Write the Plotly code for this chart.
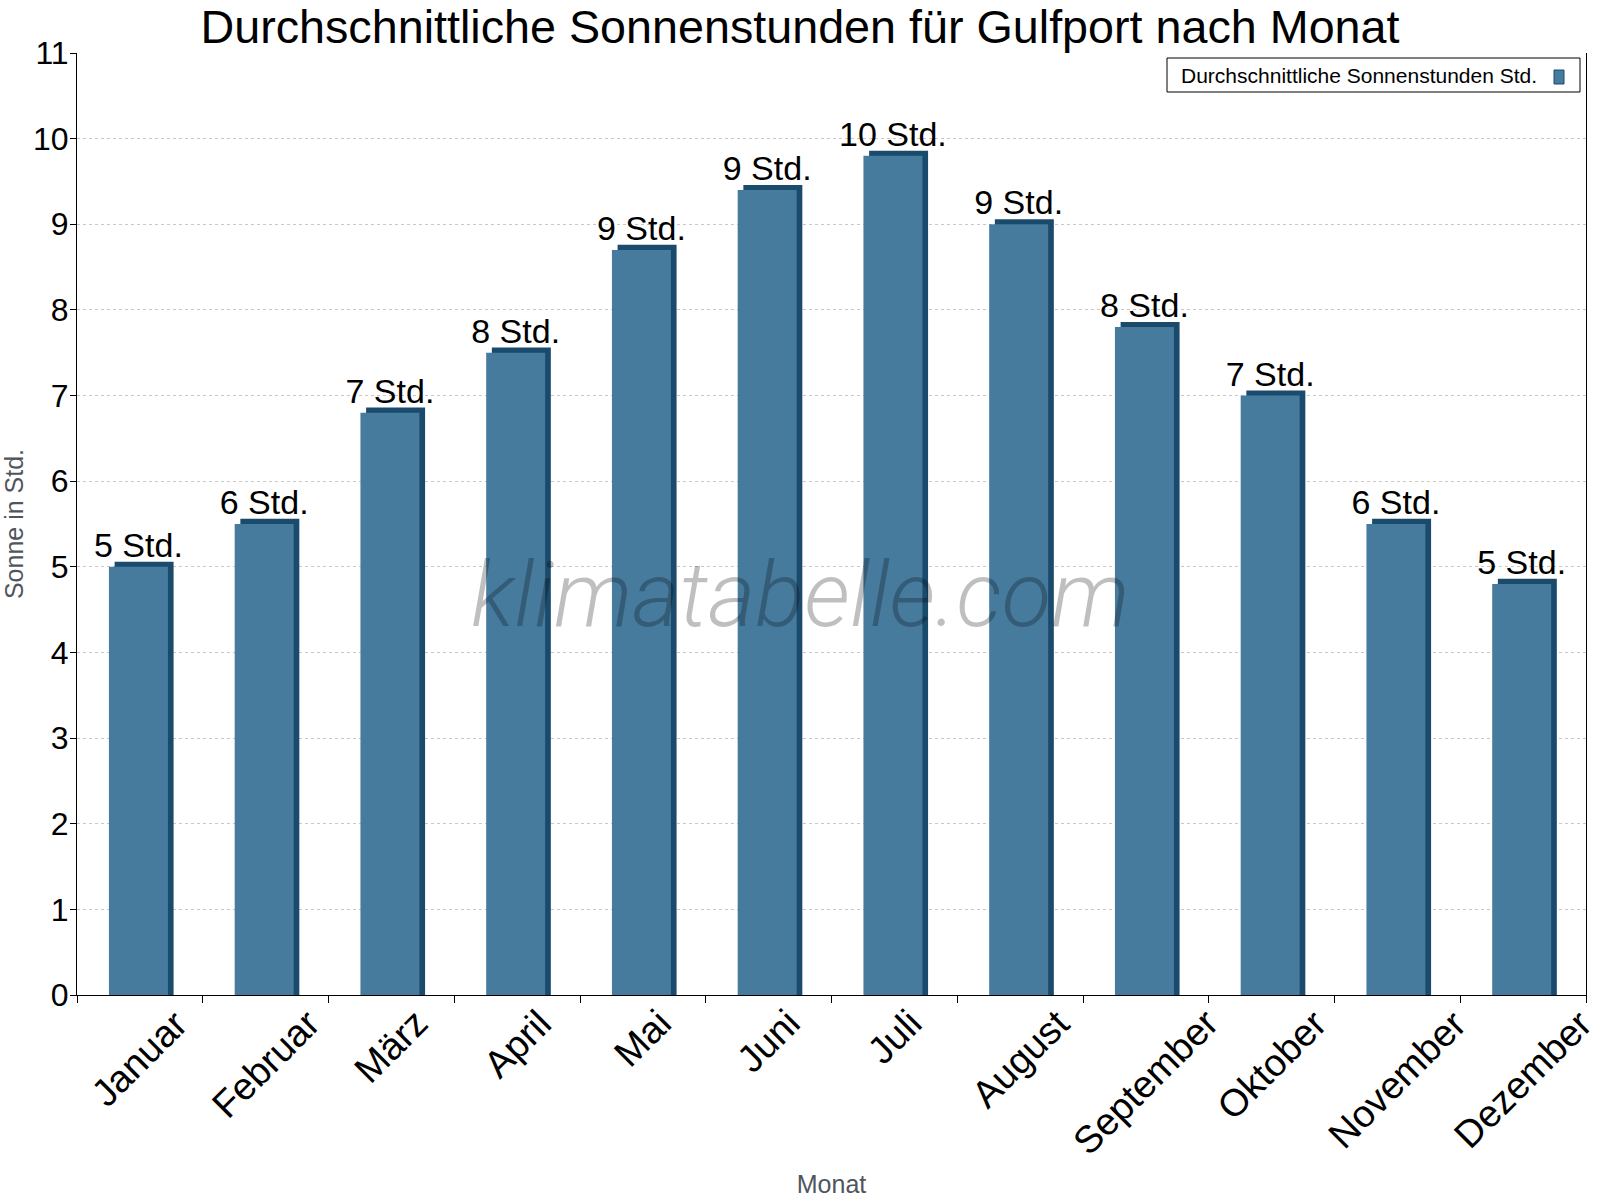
import plotly.graph_objects as go

# ---- data ----
months = ["Januar", "Februar", "März", "April", "Mai", "Juni", "Juli",
          "August", "September", "Oktober", "November", "Dezember"]
sun_hours = [5.0, 5.5, 6.8, 7.5, 8.7, 9.4, 9.8, 9.0, 7.8, 7.0, 5.5, 4.8]
labels = ["5 Std.", "6 Std.", "7 Std.", "8 Std.", "9 Std.", "9 Std.",
          "10 Std.", "9 Std.", "8 Std.", "7 Std.", "6 Std.", "5 Std."]
y_ticks = list(range(0, 12))
series_name = "Durchschnittliche Sonnenstunden Std."

title = "Durchschnittliche Sonnenstunden für Gulfport nach Monat"
y_title = "Sonne in Std."
x_title = "Monat"
watermark = "klimatabelle.com"

# ---- style ----
FONT = "Liberation Sans, Arial, sans-serif"
FRONT = "#467b9e"
DARK = "#1a4a6c"
W, H = 1600, 1200
ML, MR, MT, MB = 77, 14, 53, 205
PW, PH = W - ML - MR, H - MT - MB
BAR_W = 0.469
BAR_OFF = -0.246
DEPTH_X = 0.045   # category units
DEPTH_Y = 0.06    # data units


def px_x(p):
    return (p - ML) / PW


def px_y(p):
    return (H - MB - p) / PH


fig = go.Figure()

# dark "3D" back face
fig.add_trace(go.Bar(
    x=months, y=[v + DEPTH_Y for v in sun_hours],
    width=BAR_W, offset=BAR_OFF + DEPTH_X,
    marker=dict(color=DARK, line=dict(width=0)),
    hoverinfo="skip", showlegend=False,
))
# front face
fig.add_trace(go.Bar(
    x=months, y=sun_hours, name=series_name,
    width=BAR_W, offset=BAR_OFF,
    marker=dict(color=FRONT, line=dict(width=0)),
    text=labels, textposition="outside", textangle=0,
    constraintext="none", cliponaxis=False,
    textfont=dict(family=FONT, size=34, color="#000000"),
    showlegend=False,
))

fig.update_layout(
    width=W, height=H,
    margin=dict(l=ML, r=MR, t=MT, b=MB, pad=0),
    paper_bgcolor="white", plot_bgcolor="white",
    barmode="overlay",
    font=dict(family=FONT, color="#000000"),
    title=dict(text=title, x=0.5, xanchor="center", y=1 - 27 / H, yanchor="middle",
               font=dict(family=FONT, size=46.7, color="#000000")),
    xaxis=dict(
        range=[-0.5, 11.5], showline=True, linecolor="#000000", linewidth=1,
        ticks="outside", ticklen=7, tickcolor="#000000", tickson="boundaries",
        showticklabels=False,
        showgrid=False, automargin=False, zeroline=False,
        title=dict(text=x_title, font=dict(family=FONT, size=25, color="#50555c"),
                   standoff=180),
    ),
    yaxis=dict(
        range=[0, 11], tickvals=y_ticks, showline=True, linecolor="#000000",
        linewidth=1, mirror=True,
        ticks="outside", ticklen=6, tickcolor="#000000",
        tickfont=dict(family=FONT, size=32, color="#000000"),
        ticklabelstandoff=-5,
        showgrid=True, gridcolor="#c8c8c8", griddash="dot", gridwidth=1,
        zeroline=False, automargin=False,
        title=dict(text=y_title, font=dict(family=FONT, size=25, color="#50555c"),
                   standoff=10),
    ),
)

# rotated month labels, centred under each category (as in the reference)
for m in months:
    fig.add_annotation(
        x=m, xref="x", y=px_y(999), yref="paper",
        text=m, textangle=-45, xanchor="center", yanchor="top",
        showarrow=False, font=dict(family=FONT, size=38, color="#000000"),
    )

# watermark
fig.add_annotation(
    text=watermark, xref="paper", yref="paper",
    x=px_x(800), y=px_y(595), xanchor="center", yanchor="middle",
    showarrow=False,
    font=dict(family="Roboto, sans-serif", size=91, color="rgba(0,0,0,0.25)",
              style="italic", weight=300),
)

# legend (box, text, swatch on the right as in the reference)
fig.add_shape(type="rect", xref="paper", yref="paper",
              x0=px_x(1167), x1=px_x(1580), y0=px_y(92), y1=px_y(58),
              line=dict(color="#000000", width=1), fillcolor="white", layer="above")
fig.add_annotation(
    text=series_name, xref="paper", yref="paper",
    x=px_x(1179), y=px_y(75), xanchor="left", yanchor="middle",
    showarrow=False, font=dict(family=FONT, size=21, color="#000000"),
)
fig.add_shape(type="rect", xref="paper", yref="paper",
              x0=px_x(1554), x1=px_x(1564), y0=px_y(84), y1=px_y(70),
              line=dict(color=DARK, width=1), fillcolor=FRONT, layer="above")

fig.write_html("out.html")
